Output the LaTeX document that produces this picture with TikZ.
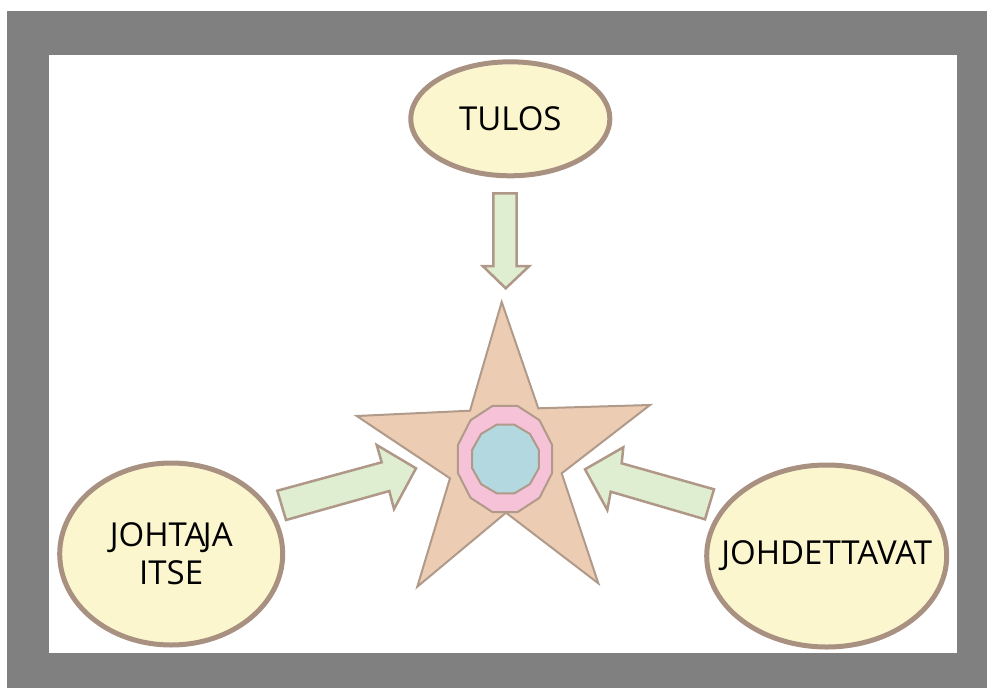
\documentclass[tikz,border=0pt]{standalone}
\usepackage{fontspec}
\setmainfont{Open Sans}
\usetikzlibrary{shapes.geometric}
\definecolor{frame}{HTML}{808080}
\definecolor{bubblefill}{HTML}{FCF6CE}
\definecolor{bubbleline}{HTML}{A99182}
\definecolor{starfill}{HTML}{EDCCB4}
\definecolor{starline}{HTML}{B09A8A}
\definecolor{ringfill}{HTML}{F5C2D8}
\definecolor{corefill}{HTML}{B4D8E0}
\definecolor{arrowfill}{HTML}{DFEDD0}
\definecolor{arrowline}{HTML}{B09888}
\tikzset{
  bubble/.style={ellipse, draw=bubbleline, fill=bubblefill, line width=5pt,
    inner sep=0pt, align=center, font=\fontsize{33}{38}\selectfont},
  blockarrow/.style={draw=arrowline, fill=arrowfill, line width=2.5pt, line join=miter},
  starpart/.style={draw=starline, line width=2pt, line join=miter}
}
\begin{document}
\begin{tikzpicture}[x=1pt, y=-1pt]
  \useasboundingbox (0,0) rectangle (987,688);
  % frame and canvas
  \fill[frame] (7,11) rectangle (987,688);
  \fill[white] (49,55) rectangle (957,653);

  % the three bubbles (wide labels are boxed to zero width so the ellipse keeps its size)
  \node[bubble, minimum width=199pt, minimum height=114pt] (tulos) at (510.3,118.8) {TULOS};
  \node[bubble, minimum width=223pt, minimum height=182pt] (johtaja) at (171.2,554)
    {\makebox[0pt]{JOHTA\kern-2.5pt JA}\\\makebox[0pt]{ITSE}};
  \node[bubble, minimum width=240pt, minimum height=182pt] (johdettavat) at (826.7,556)
    {\makebox[0pt]{JOHDETTAVAT}};

  % central star
  \draw[starpart, fill=starfill]
    (501.7,302) -- (538.3,408.3) -- (650,405) -- (561.7,473.3) -- (598.3,583.3)
    -- (506,512.7) -- (417.3,586.7) -- (450,478.3) -- (356.7,416) -- (470,410.7) -- cycle;
  % ring and core
  \draw[starpart, fill=ringfill]
    plot[samples at={15,45,...,345}] ({505+48.7*cos(\x)}, {459+54.9*sin(\x)}) -- cycle;
  \draw[starpart, fill=corefill]
    plot[samples at={15,45,...,345}] ({505.5+34.5*cos(\x)}, {459+35.5*sin(\x)}) -- cycle;

  % block arrows pointing at the star
  \draw[blockarrow] (493.3,193.3) -- (516.7,193.3) -- (516.7,266) -- (529.3,266)
    -- (505.7,288.3) -- (482.7,266) -- (493.3,266) -- cycle;
  \draw[blockarrow] (277.3,490.7) -- (381.7,462.3) -- (376.7,445) -- (416,468.3)
    -- (394,509) -- (389.3,491) -- (286,520) -- cycle;
  \draw[blockarrow] (714,489.3) -- (621.7,463.3) -- (623.3,447.3) -- (585,469.3)
    -- (607.3,510) -- (610.7,491.7) -- (705,519.3) -- cycle;
\end{tikzpicture}
\end{document}
